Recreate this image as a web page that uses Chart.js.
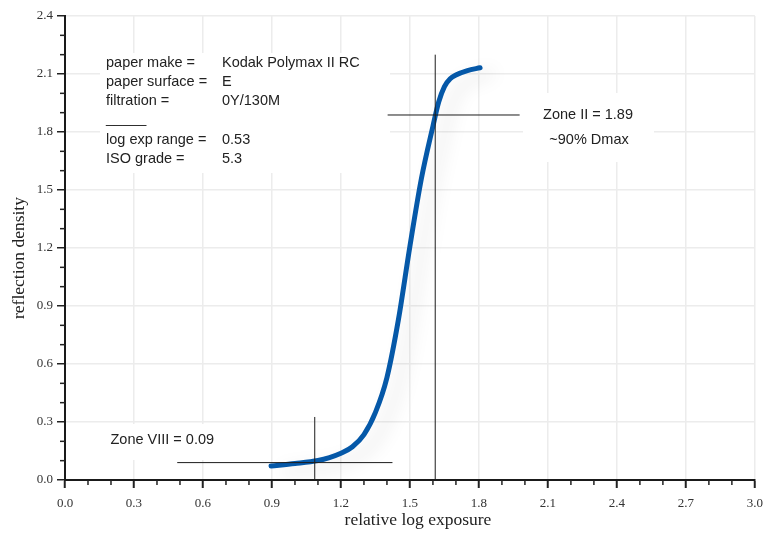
<!DOCTYPE html>
<html>
<head>
<meta charset="utf-8">
<title>paper characteristic curve</title>
<script src="https://cdn.jsdelivr.net/npm/chart.js@4.4.0/dist/chart.umd.min.js"></script>
<style>
  html, body { margin: 0; padding: 0; background: #fff; }
  #wrap { width: 771px; height: 535px; }
</style>
</head>
<body>
<div id="wrap"><canvas id="myChart"></canvas></div>
<script>
// curve
const exposure = [0.896, 1.00, 1.10, 1.15, 1.20, 1.25, 1.30, 1.35, 1.40, 1.45, 1.50, 1.55, 1.60, 1.625, 1.65, 1.675, 1.70, 1.75, 1.805];
const density  = [0.072, 0.085, 0.101, 0.116, 0.138, 0.172, 0.235, 0.350, 0.530, 0.830, 1.210, 1.560, 1.830, 1.955, 2.035, 2.075, 2.095, 2.118, 2.132];

// zone marker lines
const zoneIIx = [1.403, 1.977];   const zoneIIy = [1.888, 1.888];
const zoneIIvx = [1.61, 1.61];    const zoneIIvy = [0, 2.20];
const zoneVIIIx = [0.488, 1.424]; const zoneVIIIy = [0.09, 0.09];
const zoneVIIIvx = [1.086, 1.086]; const zoneVIIIvy = [0, 0.326];

// minor ticks
const xMinorTicks = [0.1, 0.2, 0.4, 0.5, 0.7, 0.8, 1.0, 1.1, 1.3, 1.4, 1.6, 1.7, 1.9, 2.0, 2.2, 2.3, 2.5, 2.6, 2.8, 2.9];
const yMinorTicks = [0.1, 0.2, 0.4, 0.5, 0.7, 0.8, 1.0, 1.1, 1.3, 1.4, 1.6, 1.7, 1.9, 2.0, 2.2, 2.3];

// text block
const infoLabels = ['paper make =', 'paper surface =', 'filtration =', '_____', 'log exp range =', 'ISO grade ='];
const infoValues = ['Kodak Polymax II RC', 'E', '0Y/130M', '', '0.53', '5.3'];
const infoRows   = [62.5, 81.5, 100.5, 119, 139.5, 158.5];

const pts = (xs, ys) => xs.map((x, i) => ({ x: x, y: ys[i] }));

const serif = '"Liberation Serif", "DejaVu Serif", serif';
const sans = '"Liberation Sans", Arial, sans-serif';

function refLine(xs, ys) {
  return {
    data: pts(xs, ys),
    showLine: true,
    borderColor: '#1c1c1c',
    borderWidth: 1,
    pointRadius: 0,
    tension: 0,
    order: 1
  };
}

// shadow under the blue curve
const curveShadow = {
  id: 'curveShadow',
  beforeDatasetDraw(chart, args) {
    if (args.index !== 0) return;
    const ctx = chart.ctx;
    ctx.save();
    ctx.shadowColor = 'rgba(0,0,0,0.13)';
    ctx.shadowBlur = 18;
    ctx.shadowOffsetX = 12;
    ctx.shadowOffsetY = 6;
  },
  afterDatasetDraw(chart, args) {
    if (args.index !== 0) return;
    chart.ctx.restore();
  }
};

// white boxes behind text, and the text itself
const notes = {
  id: 'notes',
  beforeDatasetsDraw(chart) {
    const ctx = chart.ctx;
    ctx.save();
    ctx.fillStyle = '#fff';
    ctx.fillRect(100, 53, 290, 120);
    ctx.fillRect(523, 93, 131, 69);
    ctx.fillRect(100, 424, 135, 36);

    ctx.fillStyle = '#222';
    ctx.font = '14.5px ' + sans;
    ctx.textBaseline = 'middle';
    ctx.textAlign = 'left';
    infoLabels.forEach((t, i) => {
      ctx.fillText(t, 106, infoRows[i]);
      if (infoValues[i]) ctx.fillText(infoValues[i], 222, infoRows[i]);
    });
    ctx.fillText('Zone VIII = 0.09', 110.5, 440);
    ctx.textAlign = 'center';
    ctx.fillText('Zone II = 1.89', 588, 115);
    ctx.fillText('~90% Dmax', 589, 140);
    ctx.restore();
  },
  afterDraw(chart) {
    const ctx = chart.ctx;
    const xs = chart.scales.x, ys = chart.scales.y;
    ctx.save();
    ctx.strokeStyle = '#222';
    ctx.lineWidth = 1.5;
    xMinorTicks.forEach(v => {
      const px = xs.getPixelForValue(v);
      ctx.beginPath(); ctx.moveTo(px, xs.top); ctx.lineTo(px, xs.top + 5); ctx.stroke();
    });
    yMinorTicks.forEach(v => {
      const py = ys.getPixelForValue(v);
      ctx.beginPath(); ctx.moveTo(ys.right, py); ctx.lineTo(ys.right - 5, py); ctx.stroke();
    });

    // axis titles
    ctx.fillStyle = '#222';
    ctx.font = '17.5px ' + serif;
    ctx.textAlign = 'center';
    ctx.textBaseline = 'middle';
    ctx.fillText('relative log exposure', 418, 520);
    ctx.translate(19, 258);
    ctx.rotate(-Math.PI / 2);
    ctx.fillText('reflection density', 0, 0);
    ctx.restore();
  }
};

const ctx = document.getElementById('myChart').getContext('2d');

new Chart(ctx, {
  type: 'scatter',
  data: {
    datasets: [
      {
        data: pts(exposure, density),
        showLine: true,
        borderColor: '#0558a8',
        borderWidth: 5,
        borderCapStyle: 'round',
        pointRadius: 0,
        cubicInterpolationMode: 'monotone',
        order: 2
      },
      refLine(zoneIIx, zoneIIy),
      refLine(zoneIIvx, zoneIIvy),
      refLine(zoneVIIIx, zoneVIIIy),
      refLine(zoneVIIIvx, zoneVIIIvy)
    ]
  },
  options: {
    responsive: true,
    maintainAspectRatio: false,
    animation: false,
    layout: { padding: { left: 0, right: 11, top: 16, bottom: 0 } },
    plugins: {
      legend: { display: false },
      tooltip: { enabled: false }
    },
    scales: {
      x: {
        type: 'linear',
        min: 0,
        max: 3,
        afterFit: s => { s.height = 55; },
        ticks: {
          stepSize: 0.3,
          autoSkip: false,
          maxRotation: 0,
          padding: 8,
          color: '#333',
          font: { family: serif, size: 13 },
          callback: v => Number(v).toFixed(1)
        },
        grid: { color: '#ececec', lineWidth: 1.5, tickColor: '#222', tickLength: 8, tickWidth: 2 },
        border: { color: '#1a1a1a', width: 2 }
      },
      y: {
        type: 'linear',
        min: 0,
        max: 2.4,
        afterFit: s => { s.width = 65; },
        ticks: {
          stepSize: 0.3,
          autoSkip: false,
          padding: 4,
          color: '#333',
          font: { family: serif, size: 13 },
          callback: v => Number(v).toFixed(1)
        },
        grid: { color: '#ececec', lineWidth: 1.5, tickColor: '#222', tickLength: 8, tickWidth: 1.5 },
        border: { color: '#1a1a1a', width: 2 }
      }
    }
  },
  plugins: [curveShadow, notes]
});
</script>
</body>
</html>
